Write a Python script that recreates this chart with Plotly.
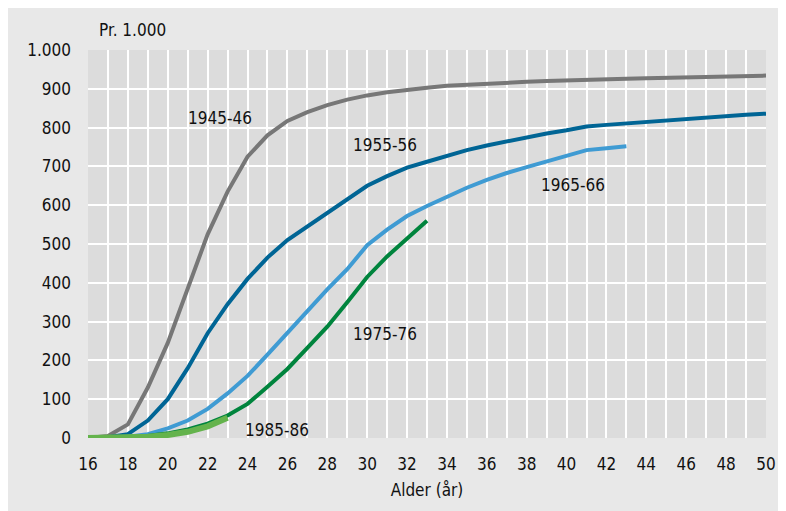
import plotly.graph_objects as go

ages = list(range(16, 51))

s1945 = [0, 5, 35, 130, 245, 385, 525, 635, 725, 780, 817, 840, 858, 872, 883, 891, 898, 903, 908, 911, 914, 916, 918, 920, 922, 923, 925, 926, 927, 928, 929, 930, 931, 932, 934]
s1955 = [0, 2, 10, 45, 100, 180, 270, 345, 410, 465, 510, 545, 580, 615, 650, 675, 697, 712, 728, 742, 754, 765, 775, 785, 793, 803, 807, 811, 815, 819, 823, 826, 830, 833, 836]
s1965 = [0, 1, 3, 10, 25, 45, 75, 115, 160, 215, 272, 328, 383, 435, 497, 537, 572, 598, 622, 645, 665, 683, 698, 713, 728, 742, 747, 752]
s1975 = [0, 0, 1, 5, 12, 22, 37, 58, 88, 132, 178, 232, 287, 350, 415, 468, 515, 560]
s1985 = [0, 0, 1, 3, 8, 16, 30, 52]

series = [
    ("1945-46", s1945, "#777777", 4),
    ("1955-56", s1955, "#006595", 4),
    ("1965-66", s1965, "#3f9bd3", 4),
    ("1975-76", s1975, "#00843d", 4),
    ("1985-86", s1985, "#64b34c", 6),
]

label_pos = {
    "1945-46": (22.6, 825),
    "1955-56": (30.9, 755),
    "1965-66": (40.3, 652),
    "1975-76": (30.9, 267),
    "1985-86": (25.5, 20),
}

xticks = list(range(16, 51, 2))
yticks = [0, 100, 200, 300, 400, 500, 600, 700, 800, 900, 1000]
ytick_text = ["0", "100", "200", "300", "400", "500", "600", "700", "800", "900", "1.000"]

font_family = "DejaVu Sans Condensed, Open Sans, sans-serif"

fig = go.Figure()
for name, vals, color, w in series:
    fig.add_trace(go.Scatter(x=ages[:len(vals)], y=vals, mode="lines", name=name,
                             line=dict(color=color, width=w), showlegend=False, hoverinfo="skip"))
    lx, ly = label_pos[name]
    fig.add_annotation(x=lx, y=ly, text=name, showarrow=False, xref="x", yref="y",
                       font=dict(size=17, color="#111111", family=font_family))

fig.add_annotation(x=0.013, y=1.02, xref="paper", yref="paper", text="Pr. 1.000", showarrow=False,
                   xanchor="left", yanchor="bottom", font=dict(size=17, color="#111111", family=font_family))

fig.update_layout(
    width=786, height=511,
    paper_bgcolor="#e8e8e8", plot_bgcolor="#dcdcdc",
    margin=dict(l=80, r=28, t=42, b=81),
    font=dict(family=font_family, size=17, color="#111111"),
    xaxis=dict(range=[16, 50], tickvals=xticks, showgrid=True, gridcolor="white", gridwidth=2,
               minor=dict(dtick=1, showgrid=True, gridcolor="white", gridwidth=2),
               zeroline=False, showline=False, ticks="", ticklabelstandoff=14,
               title=dict(text="Alder (år)", standoff=11, font=dict(size=17))),
    yaxis=dict(range=[0, 1000], tickvals=yticks, ticktext=ytick_text, showgrid=True,
               gridcolor="white", gridwidth=2, zeroline=False, showline=False, ticks="",
               ticklabelstandoff=16),
)

fig.write_html("out.html")
